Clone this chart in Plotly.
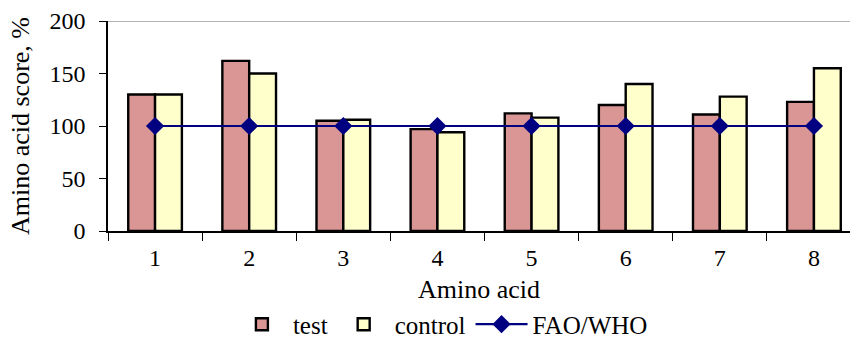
import plotly.graph_objects as go

categories = ["1", "2", "3", "4", "5", "6", "7", "8"]
test_values = [130, 162, 105, 97, 112, 120, 111, 123]
control_values = [130, 150, 106, 94, 108, 140, 128, 155]
fao_who_values = [100, 100, 100, 100, 100, 100, 100, 100]
y_ticks = [0, 50, 100, 150, 200]

FONT = "Liberation Serif"

fig = go.Figure()
fig.add_trace(go.Bar(
    x=categories, y=test_values, name="test",
    marker=dict(color="#D99694", line=dict(color="black", width=2.4)),
))
fig.add_trace(go.Bar(
    x=categories, y=control_values, name="control",
    marker=dict(color="#FFFFCC", line=dict(color="black", width=2.4)),
))
fig.add_trace(go.Scatter(
    x=categories, y=fao_who_values, name="FAO/WHO", mode="lines+markers",
    line=dict(color="#000080", width=2.2),
    marker=dict(symbol="diamond", size=14, color="#000080"),
))

fig.add_shape(type="line", xref="paper", yref="y", x0=0, x1=1, y0=200, y1=200,
              line=dict(color="#999999", width=1.5), layer="below")

fig.update_layout(
    width=850, height=338,
    margin=dict(l=108, r=0, t=21, b=107, autoexpand=False),
    paper_bgcolor="white", plot_bgcolor="white",
    barmode="group", bargap=0.43, bargroupgap=0,
    font=dict(family=FONT, size=24, color="black"),
    showlegend=True,
    legend=dict(orientation="h", x=0.45, xanchor="center", y=-0.445, yanchor="middle",
                font=dict(family=FONT, size=25), itemwidth=52, tracegroupgap=0),
    xaxis=dict(
        type="category", range=[-0.5, 7.383], automargin=False,
        showline=True, linecolor="black", linewidth=1.5,
        ticks="outside", ticklen=8, tickcolor="black", tickwidth=1,
        tickson="boundaries", showgrid=False, ticklabelstandoff=4,
        title=dict(text="Amino acid", font=dict(family=FONT, size=26), standoff=10),
        tickfont=dict(family=FONT, size=24),
    ),
    yaxis=dict(
        range=[0, 200], tickvals=y_ticks, automargin=False,
        showline=True, linecolor="black", linewidth=1.5,
        ticks="outside", ticklen=7, tickcolor="black", tickwidth=1,
        showgrid=False, zeroline=False, ticklabelstandoff=9,
        title=dict(text="Amino acid score, %", font=dict(family=FONT, size=26), standoff=12),
        tickfont=dict(family=FONT, size=24),
    ),
)

fig.write_html("out.html")
